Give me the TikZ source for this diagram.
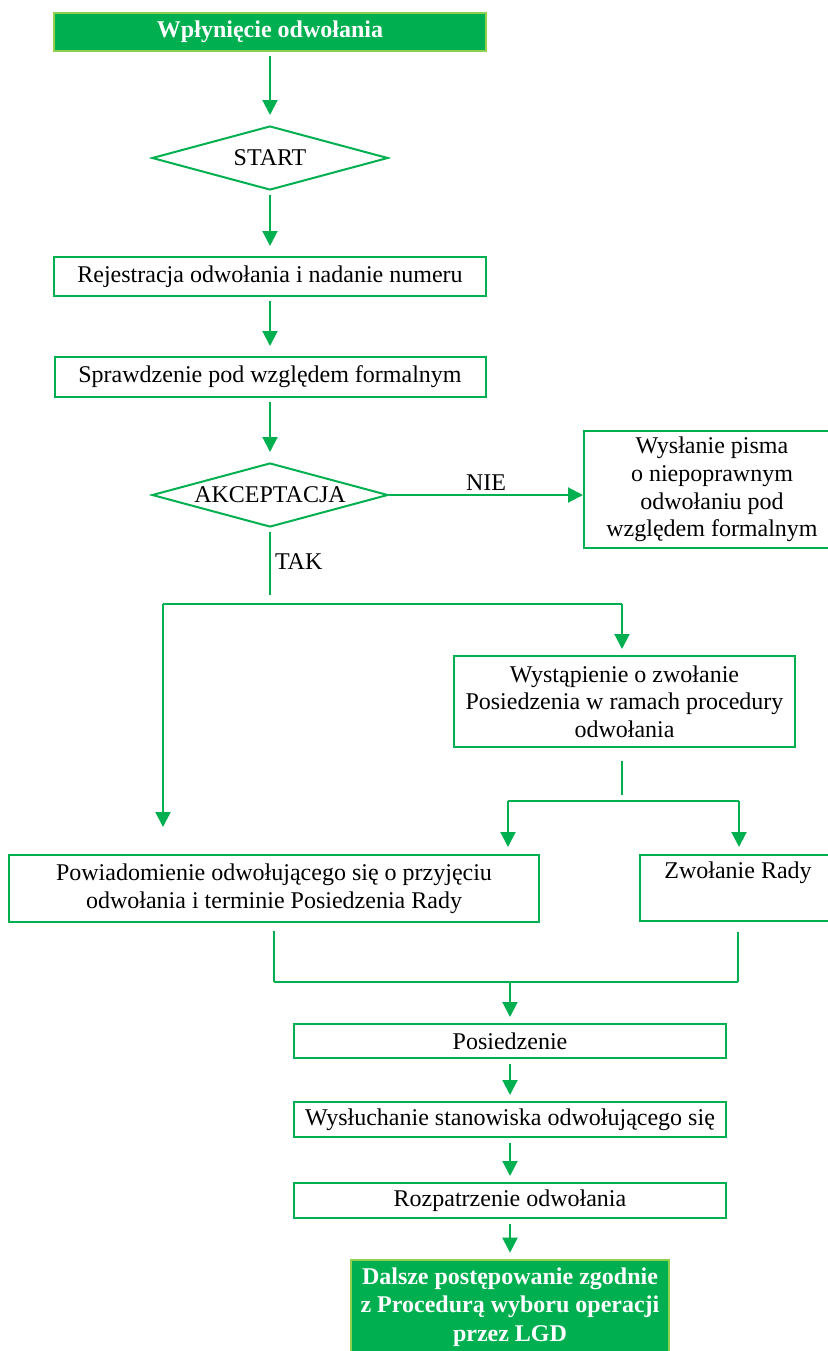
\documentclass[tikz,border=0pt]{standalone}
\usepackage{fontspec}
\setmainfont{Liberation Serif}
\usetikzlibrary{arrows.meta,shapes.geometric}
\definecolor{lgd}{HTML}{00B050}
\definecolor{lgdlight}{HTML}{92D050}

\begin{document}
\begin{tikzpicture}[x=0.5pt,y=-0.5pt,>={Triangle[width=7.5pt,length=7.5pt]},
  font=\fontsize{12}{13.8}\selectfont,
  box/.style={draw=lgd,line width=1pt,align=center,inner sep=0pt},
  head/.style={box,draw=lgdlight,fill=lgd,line width=1.3pt,text=white,font=\fontsize{12}{14.2}\selectfont\bfseries},
  decision/.style={diamond,draw=lgd,line width=1pt,aspect=3.7,inner sep=0pt,minimum width=118pt,minimum height=32pt},
  flowline/.style={color=lgd,line width=1pt},
  flow/.style={flowline,->},
  lbl/.style={text=black,inner sep=2pt}]
      \useasboundingbox (0,0) rectangle (827,1351);

      \node[head,minimum width=216pt,minimum height=19pt] (wpl) at (270,32) {Wpłynięcie odwołania};
      \node[decision] (start) at (270,158) {START};
      \node[box,minimum width=216pt,minimum height=19.5pt] (rej) at (270,276.5) {Rejestracja odwołania i nadanie numeru};
      \node[box,minimum width=215.5pt,minimum height=20pt] (spr) at (270,377) {Sprawdzenie pod względem formalnym};
      \node[decision] (akc) at (270,495) {AKCEPTACJA};
      \node[box,minimum width=128pt,minimum height=58.5pt] (wys) at (712,489.5) {Wysłanie pisma\\o niepoprawnym\\odwołaniu pod\\względem formalnym};
      \node[box,minimum width=170.5pt,minimum height=45.5pt] (wyst) at (624.5,701.5) {Wystąpienie o zwołanie\\Posiedzenia w ramach procedury\\odwołania};
      \node[box,minimum width=265pt,minimum height=33.5pt] (pow) at (274,888.5) {Powiadomienie odwołującego się o przyjęciu\\odwołania i terminie Posiedzenia Rady};
      \node[box,minimum width=98pt,minimum height=33pt] (zwo) at (738,888) {Zwołanie Rady\\\strut};
      \node[box,minimum width=216pt,minimum height=17pt] (pos) at (510,1041) {Posiedzenie};
      \node[box,minimum width=216pt,minimum height=17.5pt] (wysl) at (510,1119.5) {Wysłuchanie stanowiska odwołującego się};
      \node[box,minimum width=216pt,minimum height=17.5pt] (roz) at (510,1200.5) {Rozpatrzenie odwołania};
      \node[head,minimum width=159pt,minimum height=47pt] (dal) at (510,1307) {Dalsze postępowanie zgodnie\\z Procedurą wyboru operacji\\przez LGD};

      \coordinate (tak) at (270,595);
      \coordinate (fl) at (163,604);
      \coordinate (fr) at (622,604);
      \coordinate (pl) at (163,827);
      \coordinate (w2) at (622,795);
      \coordinate (gl) at (508,801);
      \coordinate (gr) at (739,801);
      \coordinate (ml) at (274,982);
      \coordinate (mr) at (738,982);
      \coordinate (mm) at (510,982);

      \path[flow,shorten <=2pt,shorten >=5pt]
      (wpl) edge (start)
      (start) edge (rej)
      (rej) edge (spr)
      (spr) edge (akc)
      ;

      \draw[flow] (akc.east) -- node[lbl,above] {NIE} (akc.east -| wys.west);
      \draw[flowline,shorten <=2pt] (akc) -- node[lbl,right] {TAK} (tak);

      \draw[flowline] (fl) -- (fr);
      \draw[flow] (fl) -- (pl);
      \draw[flow,shorten >=3pt] (fr) -- (fr |- wyst.north);

      \draw[flowline,shorten <=6.5pt] (w2 |- wyst.south) -- (w2);
      \draw[flowline] (gl) -- (gr);
      \draw[flow,shorten >=3.5pt] (gl) -- (gl |- pow.north);
      \draw[flow,shorten >=3.5pt] (gr) -- (gr |- zwo.north);

      \draw[flowline,shorten <=4pt] (pow) -- (ml);
      \draw[flowline,shorten <=5pt] (zwo) -- (mr);
      \draw[flowline] (ml) -- (mr);
      \draw[flow,shorten >=3pt] (mm) -- (pos);

      \path[flow,shorten <=2.5pt,shorten >=3pt]
      (pos) edge (wysl)
      (wysl) edge (roz)
      (roz) edge (dal)
      ;
    \end{tikzpicture}
\end{document}
